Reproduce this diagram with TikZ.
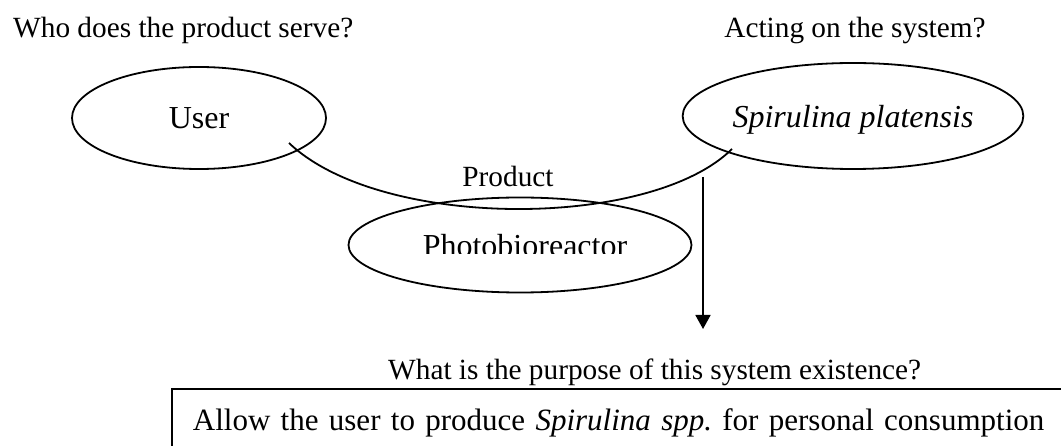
\documentclass[tikz,border=0pt]{standalone}
\usepackage{fontspec}
\setmainfont{Liberation Serif}
\usetikzlibrary{shapes.geometric, arrows.meta, positioning, calc}
\tikzstyle{arrow} = [line width=1.8pt,-{Triangle[width=15pt,length=14pt]}]
\tikzstyle{actor} = [ellipse, draw=black, line width=1.8pt, inner sep=0pt, text depth=0pt, font=\fontsize{32}{38}\selectfont]
\tikzstyle{question} = [inner sep=0pt, font=\fontsize{29.3}{35}\selectfont]
\tikzstyle{goalbox} = [rectangle, draw=black, line width=1.8pt, minimum height=68pt, inner xsep=21pt, text width=1000pt, align=left, text height=22pt, text depth=7pt, font=\fontsize{31}{38}\selectfont]

\begin{document}
\frenchspacing
\begin{tikzpicture}[x=1pt, y=-1pt]
    \clip (0,0) rectangle (1061,446);

    % Actors around the product
    \node[actor, minimum width=254pt, minimum height=102pt] (user) at (199,118) {User};
    \node[actor, minimum width=322pt, minimum height=106pt] (spir) at (853,116) {\itshape Spirulina platensis};
    \node[actor, minimum width=343pt, minimum height=95pt] (pbr) at (520,245) {};
    \begin{scope}
        \clip ($(pbr.center)+(-160,-30)$) rectangle ($(pbr.center)+(160,9)$);
        \node[actor, draw=none, xshift=5pt] (pbrtext) at (pbr.center) {Photobioreactor};
    \end{scope}

    % Product link
    \coordinate (prodL) at (289,143);
    \coordinate (prodR) at (732,149);
    \draw[line width=1.8pt] (prodL) .. controls +(91,87) and +(-82,81) .. (prodR);
    \node[question, anchor=base] (prod) at (508,187) {Product};

    % Questions
    \node[question, anchor=base west] (qwho) at (13,38) {Who does the product serve?};
    \node[question, anchor=base] (qact) at (855,38) {Acting on the system?};
    \node[question, anchor=base west] (qwhat) at (388,380) {What is the purpose of this system existence?};

    % Purpose
    \coordinate (purpTop) at (703,177);
    \coordinate (purpTip) at (703,329);
    \draw[arrow] (purpTop) -- (purpTip);
    \node[goalbox, anchor=north west] (goal) at (171,388) {Allow the user to produce \textit{Spirulina spp.} for personal consumption};

\end{tikzpicture}
\end{document}
